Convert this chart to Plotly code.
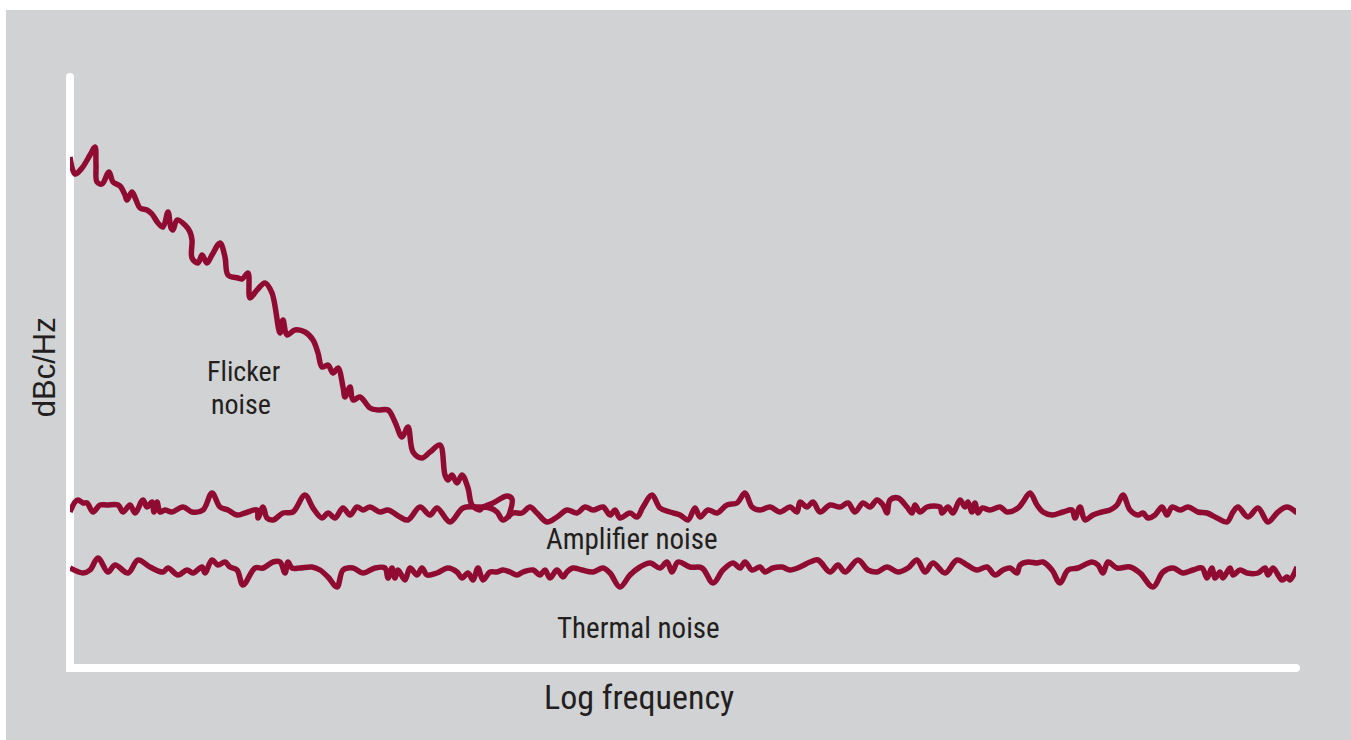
import plotly.graph_objects as go

# ---- data (log-frequency position, noise level in arbitrary dB units) ----
flicker_x = [0, 5, 12, 20, 25, 26, 27, 32, 39, 43, 50, 55, 57, 62, 66, 70, 77, 82, 88, 93,
             98, 101, 103, 107, 115, 120, 122, 122, 128, 132, 137, 142, 150, 155, 158, 168,
             172, 178, 180, 187, 195, 202, 210, 213, 217, 225, 235, 243, 248, 252, 258, 263,
             268, 273, 275, 280, 283, 290, 300, 308, 318, 325, 332, 338, 343, 352, 360, 370,
             375, 378, 382, 387, 392, 398, 402, 410, 413, 423, 437, 442, 438]
flicker_y = [511, 494, 500, 513, 521, 503, 486, 484, 496, 486, 482, 473, 468, 476, 468, 460,
             458, 454, 445, 441, 456, 440, 438, 448, 443, 436, 428, 410, 405, 413, 405, 413,
             425, 411, 393, 390, 389, 395, 370, 378, 385, 375, 335, 348, 333, 338, 336, 328,
             315, 301, 303, 295, 300, 281, 271, 281, 268, 271, 260, 258, 258, 246, 231, 241,
             216, 210, 216, 223, 193, 188, 193, 185, 193, 180, 163, 158, 161, 165, 172, 169, 150]

amp_x = [0, 5, 8, 13, 17, 23, 30, 37, 48, 53, 60, 65, 73, 77, 82, 84, 87, 90, 95, 102, 113,
         122, 133, 142, 150, 158, 167, 175, 187, 188, 193, 197, 203, 213, 223, 235, 243, 252,
         258, 265, 273, 280, 287, 293, 300, 310, 318, 330, 338, 350, 360, 367, 380, 393, 407,
         420, 427, 433, 443, 452, 460, 467, 477, 487, 497, 507, 515, 523, 533, 540, 545, 550,
         560, 567, 573, 582, 590, 600, 610, 618, 625, 630, 638, 647, 657, 667, 675, 682, 690,
         700, 710, 720, 727, 730, 737, 743, 750, 760, 770, 778, 785, 793, 800, 807, 813, 817,
         820, 828, 837, 842, 845, 850, 857, 870, 872, 878, 883, 890, 895, 898, 902, 905, 908,
         912, 920, 930, 937, 948, 953, 960, 967, 973, 982, 993, 1002, 1005, 1010, 1015, 1023,
         1032, 1040, 1047, 1053, 1060, 1068, 1073, 1078, 1085, 1092, 1097, 1102, 1110, 1118,
         1128, 1137, 1147, 1157, 1163, 1168, 1178, 1188, 1198, 1208, 1217, 1227]
amp_y = [156, 166, 168, 165, 165, 156, 163, 163, 163, 156, 163, 155, 168, 161, 166, 156, 166,
         156, 158, 156, 161, 156, 158, 175, 161, 158, 153, 155, 158, 150, 161, 150, 148, 155,
         156, 173, 160, 150, 155, 150, 160, 153, 161, 158, 161, 156, 158, 151, 148, 161, 153,
         160, 146, 160, 161, 160, 156, 148, 155, 155, 161, 155, 146, 151, 158, 155, 161, 158,
         161, 153, 158, 150, 155, 151, 161, 173, 160, 156, 153, 148, 160, 151, 158, 155, 163,
         165, 175, 161, 158, 161, 156, 161, 156, 166, 161, 166, 156, 163, 161, 165, 156, 165,
         161, 168, 163, 155, 168, 170, 161, 155, 163, 156, 161, 161, 155, 161, 155, 168, 161,
         166, 156, 165, 155, 160, 158, 161, 156, 160, 166, 175, 163, 156, 153, 156, 158, 150,
         161, 148, 153, 156, 158, 163, 173, 158, 153, 155, 150, 153, 161, 153, 161, 158, 161,
         156, 155, 150, 146, 156, 161, 151, 160, 146, 156, 161, 155]

thermal_x = [0, 13, 20, 28, 38, 45, 58, 68, 80, 93, 98, 108, 117, 123, 132, 135, 142, 148,
             155, 160, 167, 173, 185, 193, 203, 210, 215, 218, 222, 230, 242, 250, 258, 267,
             273, 283, 293, 305, 315, 318, 322, 325, 328, 335, 340, 347, 352, 357, 367, 378,
             387, 392, 398, 403, 408, 413, 420, 427, 433, 440, 447, 453, 463, 470, 475, 480,
             487, 493, 497, 503, 512, 523, 533, 540, 550, 560, 570, 580, 590, 597, 602, 608,
             620, 632, 643, 653, 663, 670, 675, 682, 690, 695, 703, 712, 720, 730, 740, 748,
             760, 768, 775, 788, 798, 807, 817, 828, 838, 847, 855, 863, 875, 887, 897, 907,
             917, 925, 933, 940, 947, 950, 958, 967, 973, 982, 990, 998, 1008, 1022, 1028,
             1033, 1038, 1047, 1060, 1070, 1083, 1093, 1103, 1113, 1123, 1132, 1137, 1142,
             1145, 1150, 1153, 1160, 1163, 1170, 1177, 1188, 1195, 1198, 1203, 1212, 1217,
             1220, 1227]
thermal_y = [100, 95, 98, 110, 96, 103, 95, 108, 101, 96, 100, 93, 98, 95, 101, 95, 108, 103,
             106, 101, 98, 83, 100, 100, 106, 106, 95, 106, 100, 100, 101, 98, 91, 81, 98, 100,
             95, 100, 100, 90, 100, 90, 98, 88, 100, 93, 100, 93, 95, 100, 96, 90, 95, 88, 100,
             88, 96, 96, 98, 96, 93, 96, 98, 93, 98, 90, 98, 91, 96, 100, 98, 96, 100, 95, 81,
             93, 101, 105, 100, 106, 96, 106, 101, 100, 85, 98, 105, 100, 106, 98, 101, 96, 100,
             101, 98, 101, 106, 108, 96, 103, 96, 108, 98, 96, 101, 96, 100, 108, 96, 105, 95,
             108, 103, 98, 101, 93, 98, 100, 95, 103, 106, 105, 106, 98, 85, 98, 100, 106, 103,
             95, 106, 100, 101, 95, 81, 96, 100, 95, 98, 100, 90, 100, 90, 96, 90, 100, 93, 98,
             95, 95, 100, 93, 100, 88, 91, 88, 101]

labels = {
    "flicker1": "Flicker",
    "flicker2": "noise",
    "amp": "Amplifier noise",
    "thermal": "Thermal noise",
    "xtitle": "Log frequency",
    "ytitle": "dBc/Hz",
}

RED = "#8f0b32"
GREY = "#d1d2d4"
TXT = "#231f20"
NARROW = "Liberation Sans Narrow, Arial Narrow, Roboto Condensed, Liberation Sans, sans-serif"
REG = "Liberation Sans, Arial, sans-serif"

fig = go.Figure()
for xs, ys in [(flicker_x, flicker_y), (amp_x, amp_y), (thermal_x, thermal_y)]:
    fig.add_trace(go.Scatter(
        x=xs, y=ys, mode="lines",
        line=dict(color=RED, width=5.5, shape="spline", smoothing=1.0),
        cliponaxis=False, hoverinfo="skip", showlegend=False,
    ))

shapes = [
    # grey panel
    dict(type="rect", xref="paper", yref="paper", x0=-0.0522, x1=1.2, y0=-0.3, y1=1.1134,
         fillcolor=GREY, line=dict(width=0), layer="below"),
    # axes
    dict(type="path", xref="paper", yref="paper", path="M 0,1 L 0,0 L 1,0",
         line=dict(color="white", width=8), layer="below"),
]
for ax, ay in [(0, 1), (1, 0), (0, 0)]:
    shapes.append(dict(type="circle", xref="paper", yref="paper", xsizemode="pixel",
                       ysizemode="pixel", xanchor=ax, yanchor=ay, x0=-4, x1=4, y0=-4, y1=4,
                       fillcolor="white", line=dict(width=0), layer="below"))

annotations = [
    dict(x=173, y=297, xref="x", yref="y", text=labels["flicker1"],
         font=dict(size=28, family=NARROW, color=TXT)),
    dict(x=171, y=264, xref="x", yref="y", text=labels["flicker2"],
         font=dict(size=28, family=NARROW, color=TXT)),
    dict(x=562, y=129, xref="x", yref="y", text=labels["amp"],
         font=dict(size=29, family=NARROW, color=TXT)),
    dict(x=568, y=40, xref="x", yref="y", text=labels["thermal"],
         font=dict(size=29, family=NARROW, color=TXT)),
    dict(x=0.4641, y=-0.0491, xref="paper", yref="paper", text=labels["xtitle"],
         font=dict(size=34, family=NARROW, color=TXT)),
    dict(x=-0.0210, y=0.5093, xref="paper", yref="paper", text=labels["ytitle"], textangle=-90,
         font=dict(size=31, family=REG, color=TXT)),
]
for a in annotations:
    a.update(showarrow=False, xanchor="center", yanchor="middle")

fig.update_layout(
    width=1351, height=740,
    margin=dict(l=70, r=55, t=77, b=72),
    paper_bgcolor="white", plot_bgcolor="rgba(0,0,0,0)",
    xaxis=dict(range=[0, 1226], visible=False, fixedrange=True),
    yaxis=dict(range=[0, 591], visible=False, fixedrange=True),
    shapes=shapes, annotations=annotations,
)
fig.write_html("out.html", config={"displayModeBar": False},
               post_script="document.body.style.margin='0';"
                           "document.body.style.background='" + GREY + "';"
                           "document.documentElement.style.overflow='hidden';")
